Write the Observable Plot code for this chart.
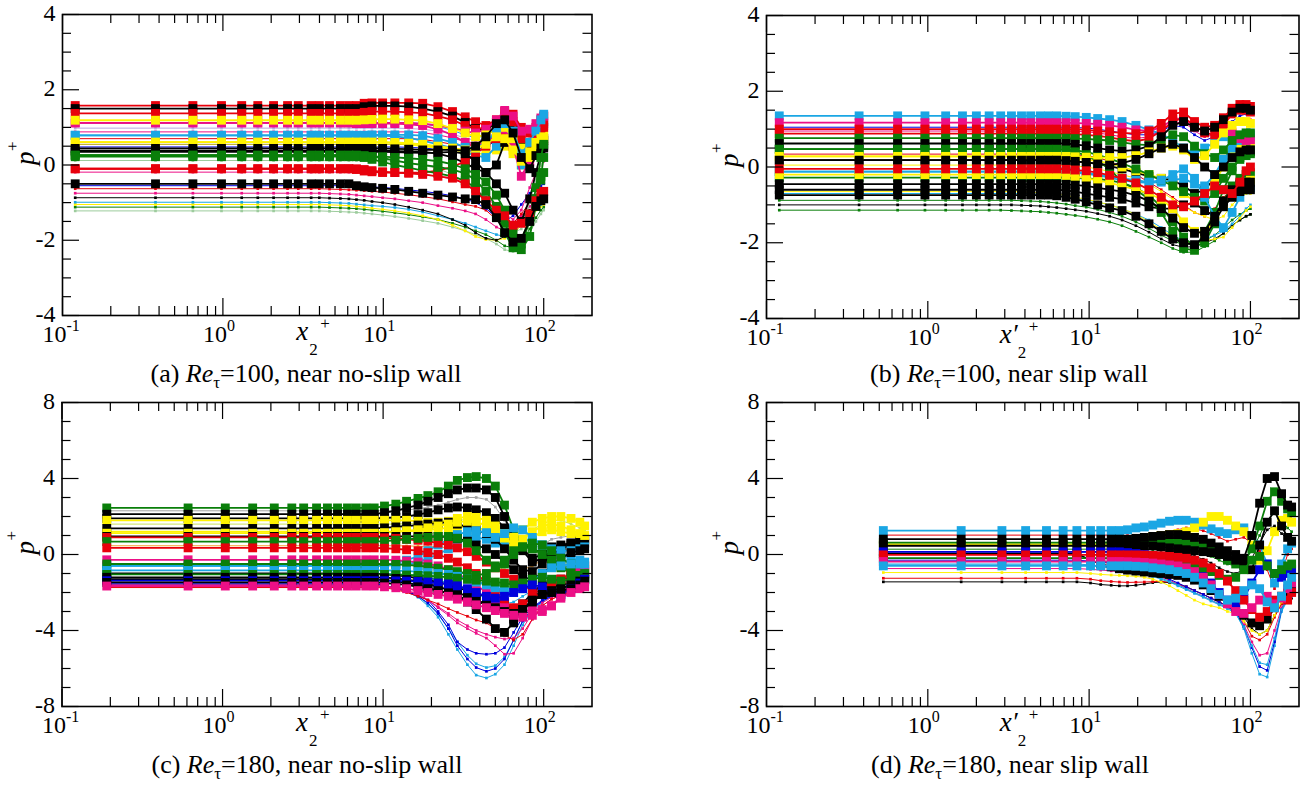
<!DOCTYPE html>
<html><head><meta charset="utf-8">
<script src="https://cdn.jsdelivr.net/npm/d3@7"></script>
<script src="https://cdn.jsdelivr.net/npm/@observablehq/plot@0.6"></script>
<style>
html,body{margin:0;padding:0;background:#fff;}
#page{position:relative;width:1303px;height:785px;overflow:hidden;background:#fff;font-family:"Liberation Serif","Times New Roman",serif;}
#page svg, #page svg text{font-family:"Liberation Serif","Times New Roman",serif !important;}
.panel{position:absolute;}
.cap{position:absolute;width:600px;text-align:center;font-size:26px;line-height:20px;color:#000;white-space:nowrap;}
.cap sub{font-size:17px;line-height:0;vertical-align:-6px;}
</style></head><body><div id="page"></div>
<script>
// ---------- axis ticks ----------
const xMajorTicks = [0.1, 1, 10, 100];
const xMajorExponents = ["-1", "0", "1", "2"];
const xMinorTicks = [0.2,0.3,0.4,0.5,0.6,0.7,0.8,0.9,2,3,4,5,6,7,8,9,20,30,40,50,60,70,80,90];
const yMajor100 = [-4,-2,0,2,4];
const yMinor100 = [-3.5,-3,-2.5,-1.5,-1,-0.5,0.5,1,1.5,2.5,3,3.5];
const yMajor180 = [-8,-4,0,4,8];
const yMinor180 = [-7,-6,-5,-3,-2,-1,1,2,3,5,6,7];

// ---------- panel (a): Re_tau=100, near no-slip wall ----------
const xA = [0.12,0.38,0.65,0.98,1.31,1.65,2.07,2.53,2.95,3.55,3.99,4.62,5.4,6.1,6.8,7.6,8.5,9.9,11.8,14.4,17.6,21.9,27,32.4,37.6,43.6,50.7,57.1,64.4,72.5,81.8,89.4,96,100];
const flatA = [-1.22,-1.12,-1.05,-0.99,-0.87,-0.75,-0.63,-0.55,-0.19,0.12,0.55,0.48,0.98,1.12,0.88,0.7,
  0.61,0.79,0.38,-0.1,1.12,
  1.58,1.5,1.37,1.12,1.19,0.79,0.61,0.44,0.35,0.26,0.26,0.22,-0.1,-0.5];
const tailA = [
  [-1.22,-1.23,-1.24,-1.25,-1.26,-1.28,-1.3,-1.33,-1.37,-1.42,-1.48,-1.55,-1.65,-1.75,-1.85,-1.95,-2.1,-2.25,-2.3,-2.15,-1.8,-1.5,-1.3,-1.2],
  [-1.12,-1.13,-1.14,-1.15,-1.16,-1.18,-1.2,-1.23,-1.27,-1.32,-1.38,-1.45,-1.55,-1.65,-1.75,-1.85,-2.0,-2.15,-2.2,-2.05,-1.7,-1.4,-1.2,-1.12],
  [-1.05,-1.06,-1.07,-1.08,-1.1,-1.12,-1.15,-1.18,-1.22,-1.28,-1.35,-1.45,-1.6,-1.75,-1.9,-1.98,-2.0,-1.95,-1.85,-1.6,-1.35,-1.2,-1.1,-1.05],
  [-0.99,-1.0,-1.01,-1.02,-1.04,-1.06,-1.08,-1.1,-1.13,-1.18,-1.25,-1.35,-1.45,-1.55,-1.65,-1.75,-1.85,-1.9,-1.8,-1.55,-1.3,-1.15,-1.05,-1.0],
  [-0.87,-0.88,-0.89,-0.9,-0.92,-0.94,-0.97,-1.0,-1.05,-1.12,-1.2,-1.3,-1.45,-1.6,-1.8,-1.95,-2.0,-1.9,-1.7,-1.45,-1.2,-1.05,-0.98,-0.95],
  [-0.75,-0.76,-0.77,-0.78,-0.8,-0.82,-0.84,-0.87,-0.9,-0.95,-1.0,-1.08,-1.15,-1.22,-1.3,-1.45,-1.65,-1.75,-1.6,-1.35,-1.1,-0.95,-0.85,-0.8],
  [-0.63,-0.64,-0.65,-0.66,-0.67,-0.68,-0.7,-0.72,-0.75,-0.79,-0.84,-0.9,-0.98,-1.05,-1.1,-1.2,-1.45,-1.6,-1.55,-1.3,-1.0,-0.8,-0.7,-0.65],
  [-0.55,-0.55,-0.55,-0.56,-0.56,-0.57,-0.58,-0.6,-0.62,-0.66,-0.7,-0.75,-0.82,-0.9,-1.0,-1.15,-1.4,-1.5,-1.35,-1.05,-0.75,-0.6,-0.55,-0.5],
  [-0.2,-0.22,-0.25,-0.3,-0.38,-0.5,-0.65,-0.85,-1.1,-1.3,-1.45,-1.2,-0.6,-0.2,0.0,0.1],
  [0.1,0.05,0.0,-0.1,-0.25,-0.45,-0.7,-1.0,-1.3,-1.5,-1.8,-1.7,-1.0,-0.4,0.0,0.2],
  [0.55,0.54,0.52,0.48,0.42,0.38,0.4,0.5,0.7,0.8,0.5,0.2,0.3,0.5,0.6,0.65],
  [0.48,0.47,0.45,0.42,0.4,0.36,0.38,0.48,0.65,0.75,0.45,0.0,-0.1,0.2,0.4,0.5],
  [0.98,0.97,0.95,0.9,0.82,0.72,0.65,0.7,0.9,1.05,0.85,0.5,0.55,0.75,0.85,0.9],
  [1.12,1.12,1.1,1.02,0.92,0.8,0.72,0.78,0.95,1.1,0.95,0.6,0.7,0.95,1.15,1.25],
  [0.88,0.88,0.86,0.8,0.72,0.62,0.58,0.65,0.85,1.0,0.8,0.45,0.5,0.8,1.0,1.1],
  [0.7,0.7,0.68,0.62,0.55,0.5,0.52,0.62,0.82,0.95,0.6,0.25,0.35,0.6,0.75,0.8],
  [0.6,0.6,0.6,0.6,0.58,0.55,0.5,0.45,0.4,0.35,0.3,0.3,0.4,0.5,0.3,0.0,0.2,0.5,0.7,0.8],
  [0.78,0.78,0.78,0.78,0.76,0.72,0.65,0.55,0.45,0.35,0.25,0.2,0.5,0.8,0.6,0.0,0.3,0.7,1.0,1.1],
  [0.38,0.38,0.38,0.38,0.37,0.36,0.35,0.3,0.2,0.05,-0.1,-0.2,0.0,0.6,0.9,0.5,0.2,0.4,0.6,0.65],
  [-0.1,-0.12,-0.15,-0.18,-0.2,-0.2,-0.2,-0.15,-0.05,0.1,0.3,0.5,0.7,0.9,0.6,0.2,0.4,0.7,0.9,1.0],
  [1.1,1.1,1.1,1.1,1.1,1.08,1.05,0.95,0.8,0.6,0.5,0.6,0.8,0.95,0.5,-0.3,0.1,0.8,1.1,1.15],
  [1.58,1.64,1.65,1.65,1.65,1.65,1.64,1.55,1.42,1.28,1.15,1.05,1.2,1.42,1.35,1.0,0.85,1.0,1.2,1.3],
  [1.5,1.55,1.57,1.57,1.57,1.55,1.5,1.42,1.3,1.13,0.97,0.9,1.15,1.22,1.0,0.55,0.35,0.5,0.65,0.7],
  [1.37,1.4,1.42,1.42,1.42,1.4,1.38,1.3,1.2,1.05,0.95,1.0,1.15,1.3,1.15,0.7,0.6,0.85,1.0,1.05],
  [1.12,1.12,1.12,1.12,1.12,1.12,1.1,1.05,0.98,0.9,0.85,0.95,1.2,1.45,1.3,0.9,0.95,1.1,1.25,1.3],
  [1.19,1.2,1.21,1.22,1.22,1.2,1.18,1.1,0.97,0.85,0.75,0.8,0.95,1.0,0.7,0.45,0.2,0.45,0.6,0.65],
  [0.79,0.79,0.8,0.8,0.8,0.8,0.78,0.7,0.6,0.47,0.45,0.6,0.9,1.1,0.9,0.3,0.6,0.9,1.2,1.35],
  [0.61,0.61,0.61,0.61,0.6,0.58,0.55,0.5,0.45,0.4,0.45,0.55,0.75,0.7,0.4,0.1,0.35,0.6,0.7,0.75],
  [0.44,0.44,0.44,0.44,0.43,0.42,0.4,0.4,0.4,0.38,0.5,0.75,1.1,1.2,0.85,0.2,-0.1,0.25,0.45,0.5],
  [0.35,0.35,0.35,0.35,0.34,0.33,0.32,0.33,0.35,0.3,0.1,-0.2,-0.5,-0.75,-1.2,-1.5,-0.9,-0.2,0.3,0.45],
  [0.26,0.25,0.22,0.18,0.12,0.05,0.0,-0.05,-0.12,-0.22,-0.4,-0.7,-1.1,-1.55,-2.0,-2.25,-1.9,-1.1,-0.3,0.2],
  [0.26,0.2,0.15,0.08,0.0,-0.07,-0.15,-0.22,-0.3,-0.42,-0.62,-0.95,-1.35,-1.8,-2.2,-2.1,-1.5,-0.6,0.2,0.55],
  [0.22,0.22,0.22,0.22,0.2,0.18,0.15,0.1,0.02,-0.1,-0.25,-0.45,-0.8,-1.2,-1.8,-2.0,-1.4,-0.9,-0.4,-0.2],
  [-0.12,-0.16,-0.18,-0.2,-0.2,-0.22,-0.25,-0.3,-0.35,-0.5,-0.7,-0.95,-1.2,-1.35,-1.6,-1.55,-1.3,-0.95,-0.75,-0.7],
  [-0.55,-0.58,-0.6,-0.62,-0.65,-0.7,-0.75,-0.8,-0.85,-0.9,-0.92,-1.05,-1.4,-1.8,-2.05,-1.95,-1.5,-1.1,-0.95,-0.9]
];
const colorA = ["lg","g","y","c","k","m","r","b","m","lg","ol","b","lav","c","m","r",
  "y","c","k","r","m",
  "r","k","r","m","y","c","y","k","k","g","g","g","r","k"];
const bigA = [0,0,0,0,0,0,0,0,0,0,0,0,0,0,0,0, 1,1,1,1,1, 1,1,1,1,1,1,1,1,1,1,1,1,1,1];

// ---------- panel (b): Re_tau=100, near slip wall ----------
const xB = [0.12,0.375,0.65,0.96,1.29,1.64,2.0,2.4,2.83,3.3,3.81,4.34,4.98,5.6,6.3,7.2,8.2,9.6,11.3,13.4,16,19.5,23.5,28,33,38.5,45,52,60,68,77,86,94,100];
const flatB = [-1.14,-1.0,-0.88,-0.7,-0.65,1.05,0.34,0.95,0.05,
  0.18,0.28,-0.12,0.47,-0.6,
  1.35,1.17,1.0,0.88,0.76,0.62,0.47,0.28,0.18,-0.12,-0.28,-0.2,-0.45,-0.74,-0.05];
const tailB = [
  [-1.14,-1.15,-1.16,-1.17,-1.18,-1.2,-1.22,-1.25,-1.28,-1.32,-1.38,-1.45,-1.55,-1.7,-1.85,-2.0,-2.15,-2.25,-2.25,-2.1,-1.95,-1.75,-1.55,-1.4,-1.3,-1.25],
  [-1.0,-1.0,-1.01,-1.02,-1.03,-1.05,-1.07,-1.1,-1.13,-1.17,-1.23,-1.3,-1.4,-1.55,-1.72,-1.9,-2.05,-2.12,-2.1,-2.0,-1.9,-1.75,-1.55,-1.4,-1.3,-1.25],
  [-0.88,-0.88,-0.89,-0.9,-0.91,-0.93,-0.95,-0.98,-1.02,-1.06,-1.12,-1.2,-1.3,-1.45,-1.62,-1.8,-1.95,-2.05,-2.05,-1.95,-1.8,-1.6,-1.4,-1.25,-1.15,-1.1],
  [-0.7,-0.7,-0.7,-0.71,-0.72,-0.73,-0.75,-0.78,-0.82,-0.87,-0.93,-1.0,-1.1,-1.25,-1.4,-1.6,-1.8,-1.95,-2.0,-1.9,-1.8,-1.7,-1.5,-1.3,-1.1,-1.0],
  [-0.65,-0.65,-0.66,-0.67,-0.68,-0.7,-0.72,-0.75,-0.8,-0.85,-0.92,-1.0,-1.1,-1.25,-1.45,-1.65,-1.85,-2.0,-2.0,-1.95,-1.9,-1.85,-1.6,-1.35,-1.15,-1.05],
  [1.05,1.05,1.04,1.03,1.0,0.95,0.9,0.85,0.85,0.95,1.1,1.05,0.85,0.7,0.8,1.0,1.2,1.35,1.4,1.4],
  [0.34,0.33,0.32,0.3,0.25,0.15,0.0,-0.2,-0.4,-0.6,-0.8,-1.0,-1.2,-1.3,-1.1,-0.8,-0.6,-0.5,-0.5,-0.5],
  [0.95,0.95,0.94,0.93,0.9,0.85,0.8,0.75,0.8,0.95,1.15,1.2,0.95,0.8,0.85,0.95,1.1,1.2,1.25,1.25],
  [0.05,0.04,0.02,0.0,-0.05,-0.12,-0.2,-0.3,-0.45,-0.65,-0.85,-1.05,-1.2,-1.3,-1.4,-1.3,-1.0,-0.8,-0.7,-0.7],
  [0.18,0.17,0.15,0.12,0.08,0.02,-0.05,-0.15,-0.25,-0.3,-0.35,-0.5,-0.7,-0.6,-0.3,0.1,0.3,0.35,0.4,0.4],
  [0.28,0.27,0.25,0.2,0.15,0.1,0.0,-0.1,-0.2,-0.3,-0.45,-0.7,-0.9,-0.8,-0.4,0.0,0.3,0.5,0.6,0.6],
  [-0.12,-0.13,-0.15,-0.18,-0.22,-0.28,-0.35,-0.4,-0.42,-0.4,-0.35,-0.3,-0.45,-0.5,-0.2,0.2,0.5,0.7,0.75,0.8],
  [0.47,0.46,0.44,0.4,0.32,0.22,0.1,-0.05,-0.2,-0.35,-0.5,-0.65,-0.8,-0.9,-0.7,-0.3,0.0,0.2,0.3,0.35],
  [-0.6,-0.62,-0.65,-0.7,-0.75,-0.8,-0.85,-0.95,-1.05,-1.1,-1.1,-1.0,-0.95,-1.15,-1.3,-1.0,-0.7,-0.55,-0.5,-0.5],
  [1.35,1.34,1.33,1.31,1.28,1.25,1.2,1.1,0.98,0.88,0.7,0.5,0.35,0.5,0.65,0.8,0.75,0.8,0.85,0.85],
  [1.17,1.17,1.16,1.15,1.13,1.1,1.05,0.98,0.95,1.05,1.25,1.3,1.05,0.95,1.05,1.1,0.9,0.75,0.7,0.72],
  [1.0,1.0,1.0,0.98,0.95,0.93,0.9,0.88,0.95,1.15,1.4,1.45,1.2,1.05,1.1,1.3,1.55,1.65,1.65,1.6],
  [0.88,0.88,0.87,0.85,0.82,0.78,0.72,0.68,0.75,0.95,1.2,1.3,1.1,0.9,0.85,1.1,1.4,1.5,1.5,1.45],
  [0.76,0.76,0.75,0.74,0.72,0.7,0.65,0.6,0.58,0.7,0.85,0.8,0.55,0.35,0.25,0.45,0.7,0.85,0.9,0.9],
  [0.62,0.62,0.6,0.56,0.5,0.45,0.42,0.45,0.55,0.8,1.1,1.2,1.05,0.95,1.05,1.25,1.45,1.55,1.55,1.5],
  [0.47,0.45,0.4,0.3,0.15,-0.05,-0.4,-0.6,-0.85,-1.2,-1.7,-2.15,-2.2,-1.7,-1.2,-0.6,-0.1,0.25,0.4,0.45],
  [0.28,0.28,0.27,0.26,0.25,0.25,0.25,0.3,0.4,0.5,0.55,0.45,0.2,0.3,0.6,0.9,1.1,1.2,1.2,1.15],
  [0.18,0.17,0.15,0.12,0.08,0.05,0.1,0.2,0.35,0.5,0.6,0.5,0.25,0.0,-0.2,0.0,0.25,0.4,0.45,0.45],
  [-0.12,-0.12,-0.13,-0.15,-0.2,-0.25,-0.3,-0.35,-0.4,-0.35,-0.2,-0.05,-0.3,-0.8,-1.3,-1.6,-1.2,-0.8,-0.6,-0.55],
  [-0.28,-0.28,-0.29,-0.3,-0.32,-0.35,-0.42,-0.55,-0.75,-1.05,-1.45,-1.85,-2.1,-2.0,-1.5,-0.9,-0.5,-0.3,-0.2,-0.15],
  [-0.2,-0.22,-0.25,-0.3,-0.35,-0.42,-0.5,-0.6,-0.7,-0.85,-1.1,-1.45,-1.7,-1.75,-1.4,-1.0,-0.7,-0.5,-0.4,-0.35],
  [-0.45,-0.46,-0.48,-0.5,-0.55,-0.6,-0.65,-0.75,-0.9,-1.1,-1.35,-1.6,-1.75,-1.7,-1.3,-0.9,-0.6,-0.45,-0.4,-0.4],
  [-0.76,-0.8,-0.85,-0.92,-1.0,-1.08,-1.15,-1.3,-1.5,-1.7,-1.9,-2.0,-2.05,-1.85,-1.45,-1.05,-0.8,-0.65,-0.6,-0.6],
  [-0.05,-0.06,-0.08,-0.1,-0.15,-0.22,-0.3,-0.42,-0.6,-0.8,-1.0,-1.05,-0.9,-0.7,-0.5,-0.6,-0.7,-0.4,-0.1,0.0]
];
const colorB = ["g","k","g","c","y","b","r","m","y",
  "k","y","c","g","k",
  "c","m","r","r","g","k","g","y","k","c","g","y","k","k","r"];
const bigB = [0,0,0,0,0,0,0,0,0, 1,1,1,1,1, 1,1,1,1,1,1,1,1,1,1,1,1,1,1,1];

// ---------- panel (c): Re_tau=180, near no-slip wall ----------
const xC = [0.19,0.61,1.04,1.54,2.1,2.7,3.2,3.85,4.5,5.2,6.0,6.8,7.8,8.8,10.2,12,14,16.5,19,22,25.5,29,33.5,38,44,50,57,65,74,85,98,112,128,148,168,180];
const flatC = [-1.58,-1.6,-1.55,-1.5,-1.62,-1.6,-1.74,1.6,0.46,2.3,-0.5,-1.0,
  -1.3,-1.0,1.2,-0.6,
  2.45,2.12,1.9,1.8,1.37,1.12,-0.6,0.95,0.9,0.68,0.35,-0.28,-0.5,-0.84,-1.05,-1.2,-1.38,-1.47,-1.66];
const tailC = [
  [-1.65,-1.75,-1.95,-2.25,-2.7,-3.3,-4.2,-5.0,-5.8,-6.35,-6.5,-6.3,-5.8,-4.8,-3.7,-2.95,-2.5,-2.2,-2.0,-1.85,-1.75,-1.7],
  [-1.65,-1.75,-1.95,-2.2,-2.6,-3.15,-3.9,-4.6,-5.3,-5.75,-5.95,-5.85,-5.4,-4.5,-3.5,-2.9,-2.45,-2.2,-2.0,-1.85,-1.75,-1.7],
  [-1.65,-1.75,-1.95,-2.15,-2.4,-3.0,-3.7,-4.6,-5.0,-5.2,-5.25,-5.2,-4.9,-4.1,-3.3,-2.8,-2.4,-2.15,-2.0,-1.85,-1.75,-1.7],
  [-1.65,-1.75,-1.95,-2.2,-2.55,-3.1,-3.9,-4.8,-5.5,-5.95,-6.15,-6.0,-5.5,-4.5,-3.5,-2.85,-2.45,-2.2,-2.0,-1.85,-1.75,-1.7],
  [-1.7,-1.8,-1.95,-2.0,-2.4,-2.8,-3.2,-3.6,-3.9,-4.15,-4.4,-4.8,-5.25,-5.2,-4.4,-3.4,-2.7,-2.35,-2.15,-2.0,-1.9,-1.85],
  [-1.65,-1.75,-1.9,-2.1,-2.4,-2.75,-3.1,-3.45,-3.75,-4.0,-4.2,-4.35,-4.45,-4.4,-3.9,-3.1,-2.55,-2.25,-2.1,-2.0,-1.9,-1.85],
  [-1.75,-1.85,-2.0,-2.2,-2.4,-2.6,-2.85,-3.05,-3.25,-3.45,-3.6,-3.9,-4.25,-4.5,-4.2,-3.4,-2.7,-2.35,-2.15,-2.0,-1.9,-1.85],
  [1.6,1.6,1.62,1.65,1.7,1.75,1.8,1.85,1.8,1.7,1.5,1.2,0.8,0.6,0.9,1.3,1.6,1.8,1.8,1.6,1.4,1.3],
  [0.46,0.46,0.45,0.44,0.42,0.4,0.35,0.25,0.1,-0.1,-0.35,-0.6,-0.8,-0.9,-0.8,-0.6,-0.3,0.0,0.2,0.3,0.3,0.3],
  [2.3,2.32,2.35,2.4,2.5,2.6,2.75,2.9,3.0,3.0,2.9,2.5,1.8,1.0,0.5,0.3,0.5,0.8,0.9,1.0,1.0,1.0],
  [-0.5,-0.5,-0.52,-0.55,-0.6,-0.65,-0.75,-0.9,-1.1,-1.35,-1.6,-1.9,-2.1,-2.0,-1.7,-1.3,-1.0,-0.8,-0.7,-0.6,-0.55,-0.5],
  [-1.0,-1.02,-1.05,-1.1,-1.2,-1.35,-1.5,-1.7,-1.9,-2.1,-2.3,-2.5,-2.6,-2.5,-2.2,-1.9,-1.6,-1.4,-1.3,-1.2,-1.1,-1.05],
  [-1.35,-1.4,-1.5,-1.6,-1.75,-1.9,-2.05,-2.2,-2.35,-2.5,-2.6,-2.7,-3.0,-3.4,-3.0,-2.3,-1.9,-1.7,-1.6,-1.5,-1.4,-1.3],
  [-1.05,-1.1,-1.15,-1.25,-1.35,-1.45,-1.6,-1.75,-1.9,-2.05,-2.2,-2.35,-2.6,-2.9,-2.6,-2.0,-1.6,-1.4,-1.3,-1.2,-1.1,-1.05],
  [1.2,1.2,1.22,1.25,1.3,1.35,1.4,1.45,1.45,1.4,1.3,1.0,0.6,0.4,0.6,0.9,1.2,1.3,1.2,1.1,1.0,0.9],
  [-0.6,-0.55,-0.5,-0.4,-0.2,0.0,0.3,0.6,0.8,0.9,0.8,0.6,0.4,0.5,0.7,0.8,0.5,0.2,0.0,-0.2,-0.3,-0.4],
  [2.55,2.65,2.8,2.95,3.1,3.3,3.6,3.9,4.05,4.1,4.0,3.6,2.6,1.3,0.6,0.3,0.1,-0.3,-0.7,-1.0,-1.2,-1.3],
  [2.2,2.3,2.45,2.6,2.8,3.0,3.2,3.4,3.5,3.5,3.4,3.0,2.0,0.8,0.3,-0.2,0.0,0.4,0.5,0.6,0.6,0.6],
  [1.92,1.95,2.0,2.1,2.2,2.35,2.45,2.5,2.45,2.35,2.2,1.9,1.4,0.8,0.2,-0.4,-0.2,0.1,0.4,0.6,0.7,0.8],
  [1.8,1.8,1.8,1.75,1.7,1.7,1.75,1.9,2.0,1.95,1.8,1.5,1.1,0.9,1.3,1.7,1.9,2.0,2.0,1.9,1.7,1.5],
  [1.4,1.45,1.5,1.55,1.6,1.65,1.7,1.6,1.45,1.3,1.1,0.8,0.3,-0.3,-0.8,-0.9,-0.5,0.0,0.3,0.5,0.7,0.8],
  [1.15,1.2,1.25,1.3,1.4,1.5,1.6,1.7,1.75,1.7,1.55,1.3,0.9,0.5,0.8,1.2,1.5,1.6,1.5,1.3,1.1,1.0],
  [-0.55,-0.45,-0.3,-0.1,0.2,0.5,0.8,1.05,1.2,1.25,1.15,0.9,1.1,1.4,1.3,0.9,0.5,0.3,0.2,0.2,0.3,0.4],
  [0.95,0.95,0.95,0.95,0.95,0.95,0.92,0.85,0.7,0.5,0.3,0.0,-0.4,-0.8,-1.2,-1.3,-1.0,-0.6,-0.2,0.1,0.2,0.3],
  [0.88,0.85,0.8,0.75,0.7,0.6,0.5,0.35,0.15,-0.1,-0.4,-0.7,-1.0,-1.3,-1.6,-1.9,-2.0,-1.7,-1.3,-1.0,-0.7,-0.6],
  [0.7,0.75,0.8,0.85,0.9,0.95,0.95,0.85,0.6,0.2,-0.3,-0.6,-0.5,0.0,0.4,0.6,0.5,0.2,-0.2,-0.5,-0.7,-0.8],
  [0.33,0.3,0.25,0.2,0.1,0.0,-0.2,-0.4,-0.7,-1.0,-1.5,-2.0,-2.5,-2.8,-2.6,-2.3,-2.0,-1.6,-1.3,-1.1,-1.0,-0.9],
  [-0.28,-0.3,-0.35,-0.4,-0.5,-0.6,-0.8,-1.0,-1.3,-1.6,-2.0,-2.4,-2.8,-3.1,-3.0,-2.9,-2.9,-2.7,-2.2,-1.5,-0.9,-0.6],
  [-0.5,-0.52,-0.55,-0.6,-0.65,-0.72,-0.8,-0.9,-1.0,-1.1,-1.0,-0.7,-0.3,0.2,0.4,0.3,0.0,-0.3,-0.6,-0.9,-1.1,-1.2],
  [-0.84,-0.85,-0.87,-0.9,-0.95,-1.0,-1.05,-1.15,-1.3,-1.45,-1.6,-1.75,-1.9,-2.0,-1.8,-1.4,-1.0,-0.7,-0.6,-0.5,-0.5,-0.5],
  [-1.05,-1.06,-1.08,-1.1,-1.12,-1.15,-1.2,-1.25,-1.3,-1.35,-1.4,-1.45,-1.5,-1.6,-1.5,-1.3,-1.2,-1.3,-1.4,-1.3,-1.1,-1.0],
  [-1.22,-1.26,-1.32,-1.4,-1.55,-1.7,-1.85,-2.0,-2.2,-2.4,-2.6,-2.8,-3.0,-3.1,-2.9,-2.5,-2.1,-1.9,-1.8,-1.6,-1.4,-1.3],
  [-1.38,-1.39,-1.4,-1.42,-1.45,-1.5,-1.55,-1.65,-1.8,-2.0,-2.2,-2.3,-2.2,-2.0,-1.8,-1.6,-1.7,-2.0,-2.1,-1.8,-1.5,-1.3],
  [-1.5,-1.55,-1.6,-1.7,-1.8,-1.9,-2.05,-2.2,-2.5,-2.9,-3.4,-3.9,-4.1,-3.6,-2.9,-2.4,-2.1,-2.0,-1.9,-1.8,-1.6,-1.4],
  [-1.7,-1.75,-1.8,-1.9,-2.0,-2.1,-2.2,-2.35,-2.5,-2.65,-2.8,-2.95,-3.1,-3.2,-3.3,-3.2,-3.0,-2.7,-2.3,-2.0,-1.8,-1.7]
];
const colorC = ["c","c","b","b","m","m","r","yg","or","gr","te","c",
  "k","k","y","c",
  "g","k","k","y","k","y","c","k","r","g","r","m","g","c","g","k","b","k","m"];
const bigC = [0,0,0,0,0,0,0,0,0,0,0,0, 1,1,1,1, 1,1,1,1,1,1,1,1,1,1,1,1,1,1,1,1,1,1,1];

// ---------- panel (d): Re_tau=180, near slip wall ----------
const xD = [0.53,1.61,2.88,4.04,5.44,6.9,8.4,10.2,11.8,13.7,15.4,17.3,19.5,22,24.8,27.9,31.5,35.5,40,45,51,57,64,72,81,91,102,114,127,141,156,170,180];
const flatD = [-1.44,-1.25,-0.95,-0.74,-0.5,-0.3,-0.55,0.28,0.14,1.02,
  1.26,0.55,0.63,0.81,0.46,0.05,0.14,-0.19,-0.02,-0.37,-0.6];
const tailD = [
  [-1.5,-1.58,-1.62,-1.65,-1.65,-1.62,-1.55,-1.48,-1.45,-1.48,-1.55,-1.7,-1.9,-2.1,-2.3,-2.5,-2.7,-2.9,-3.3,-3.9,-4.2,-4.0,-3.2,-2.6,-2.4,-2.3],
  [-1.3,-1.38,-1.42,-1.45,-1.47,-1.46,-1.45,-1.43,-1.42,-1.45,-1.55,-1.7,-1.9,-2.1,-2.3,-2.5,-2.7,-2.9,-3.5,-4.3,-4.5,-4.2,-3.3,-2.6,-2.3,-2.2],
  [-1.0,-1.05,-1.08,-1.1,-1.12,-1.15,-1.2,-1.3,-1.45,-1.65,-1.9,-2.15,-2.4,-2.6,-2.7,-2.8,-3.0,-3.1,-3.5,-4.0,-4.2,-4.0,-3.2,-2.5,-2.2,-2.1],
  [-0.78,-0.82,-0.86,-0.9,-0.95,-1.0,-1.05,-1.1,-1.2,-1.35,-1.55,-1.8,-2.0,-2.2,-2.4,-2.6,-2.8,-3.0,-3.7,-4.6,-5.3,-5.2,-4.0,-2.8,-2.3,-2.2],
  [-0.55,-0.6,-0.65,-0.7,-0.8,-0.9,-1.0,-1.1,-1.25,-1.4,-1.6,-1.8,-2.0,-2.2,-2.4,-2.6,-2.8,-3.1,-3.9,-5.2,-6.3,-6.45,-4.8,-3.0,-2.4,-2.2],
  [-0.35,-0.4,-0.45,-0.5,-0.6,-0.7,-0.8,-0.95,-1.1,-1.3,-1.5,-1.7,-1.9,-2.1,-2.3,-2.5,-2.75,-3.0,-3.8,-4.9,-5.9,-6.1,-4.6,-2.9,-2.3,-2.1],
  [-0.6,-0.65,-0.7,-0.75,-0.85,-0.95,-1.05,-1.15,-1.3,-1.45,-1.65,-1.85,-2.05,-2.25,-2.45,-2.65,-2.85,-3.1,-3.8,-4.8,-5.7,-5.8,-4.4,-2.9,-2.3,-2.1],
  [0.28,0.28,0.27,0.26,0.25,0.24,0.22,0.2,0.15,0.05,-0.1,-0.3,-0.5,-0.6,-0.4,0.2,1.0,1.8,2.2,1.8,1.4,1.2],
  [0.14,0.14,0.13,0.12,0.1,0.08,0.05,0.0,-0.1,-0.25,-0.45,-0.7,-0.9,-1.0,-0.8,-0.2,0.6,1.3,1.5,1.1,0.8,0.7],
  [1.0,1.0,1.05,1.1,1.15,1.2,1.3,1.4,1.35,1.25,1.1,0.9,0.7,0.8,0.9,0.6,0.2,-0.8,-1.8,-1.0,0.0,0.3],
  [1.3,1.4,1.45,1.55,1.65,1.75,1.8,1.8,1.7,1.55,1.35,1.2,1.1,1.3,1.4,1.0,0.5,-0.5,-1.5,-0.5,0.3,0.6],
  [0.6,0.7,0.85,0.95,1.0,1.05,1.1,1.2,1.4,1.7,2.0,2.0,1.8,1.5,1.2,0.5,-0.3,0.2,1.2,1.8,1.9,1.7],
  [0.6,0.6,0.65,0.65,0.7,0.7,0.7,0.65,0.55,0.4,0.2,0.0,-0.3,-0.5,-0.4,0.3,1.5,2.8,3.3,2.8,2.4,2.2],
  [0.8,0.85,0.9,0.95,1.0,1.05,1.05,1.0,0.9,0.8,0.6,0.4,0.2,0.0,-0.2,1.0,2.7,4.0,4.1,3.2,2.6,2.5],
  [0.45,0.45,0.45,0.45,0.4,0.35,0.3,0.25,0.2,0.15,0.1,0.0,-0.1,-0.3,-0.6,-0.8,0.5,1.7,2.3,1.5,0.9,0.7],
  [-0.3,-0.5,-0.65,-0.75,-0.82,-0.87,-0.92,-0.97,-1.0,-1.05,-1.1,-1.2,-1.35,-1.6,-1.9,-2.2,-2.5,-2.8,-3.2,-3.6,-3.75,-3.4,-2.8,-2.2,-2.0,-1.9],
  [0.1,0.05,0.0,-0.05,-0.1,-0.2,-0.35,-0.55,-0.8,-1.1,-1.5,-2.0,-2.4,-2.6,-2.3,-1.5,-0.8,-0.5,-1.0,-1.2,-1.0,-0.8],
  [-0.2,-0.25,-0.3,-0.35,-0.4,-0.45,-0.5,-0.55,-0.6,-0.7,-0.9,-1.1,-1.3,-1.2,-0.8,-0.3,-0.1,-0.6,-1.0,-0.8,-0.6,-0.5],
  [-0.02,-0.02,-0.03,-0.05,-0.07,-0.1,-0.15,-0.2,-0.3,-0.45,-0.7,-1.0,-1.4,-1.9,-2.4,-2.9,-3.3,-3.0,-2.4,-2.2,-2.4,-2.0],
  [-0.38,-0.4,-0.42,-0.45,-0.5,-0.55,-0.6,-0.7,-0.9,-1.2,-1.6,-2.1,-2.6,-3.0,-3.1,-2.8,-2.4,-2.2,-2.6,-2.3,-1.8,-1.5],
  [-0.6,-0.62,-0.65,-0.7,-0.75,-0.8,-0.9,-1.0,-1.2,-1.5,-1.8,-2.1,-2.4,-2.3,-1.9,-1.6,-1.8,-2.5,-2.8,-2.2,-1.6,-1.2]
];
const colorD = ["k","r","y","m","c","b","c","g","k","r",
  "c","y","g","k","k","k","b","g","r","m","c"];
const bigD = [0,0,0,0,0,0,0,0,0,0, 1,1,1,1,1,1,1,1,1,1,1];

// ---------- styling ----------
const PALETTE = {k:"#000000", r:"#e8000b", y:"#fff200", c:"#1aa6e4", m:"#ec0f86", g:"#0a7f0a", b:"#0000dd",
  lav:"#b8a8dc", ol:"#b5a300", lg:"#9dcc9d", yg:"#c9e05c", gr:"#a0a0a0", or:"#f5a031", te:"#2f8f8f"};
const FONT = "Liberation Serif";

function seriesRows(xs, flat, tail, s) {
  const k = xs.length - tail.length;
  return xs.map((x, j) => ({x, y: j < k ? flat : tail[j - k], s}));
}

function panel(cfg) {
  const {xs, flat, tails, colors, big, yDomain, yMajor, yMinor, width, height, mL, mR, mT, mB, prime} = cfg;
  const H = height - mT - mB, W = width - mL - mR;
  const marks = [];
  flat.forEach((f, i) => {
    const rows = seriesRows(xs, f, tails[i], i);
    const col = PALETTE[colors[i]];
    marks.push(Plot.line(rows, {x: "x", y: "y", stroke: col, strokeWidth: big[i] ? 1.8 : 1}));
    marks.push(Plot.dot(rows, {x: "x", y: "y", symbol: "square", r: big[i] ? 5 : 1.5, fill: col, stroke: "none"}));
  });
  const tk = {stroke: "#000", strokeWidth: 1.2};
  const tx = {fontFamily: FONT, fill: "#000"};
  marks.push(
    Plot.tickX(xMajorTicks, {x: d => d, insetTop: H - 17, ...tk}),
    Plot.tickX(xMajorTicks, {x: d => d, insetBottom: H - 17, ...tk}),
    Plot.tickX(xMinorTicks, {x: d => d, insetTop: H - 9, ...tk}),
    Plot.tickX(xMinorTicks, {x: d => d, insetBottom: H - 9, ...tk}),
    Plot.tickY(yMajor, {y: d => d, insetRight: W - 17, ...tk}),
    Plot.tickY(yMajor, {y: d => d, insetLeft: W - 17, ...tk}),
    Plot.tickY(yMinor, {y: d => d, insetRight: W - 9, ...tk}),
    Plot.tickY(yMinor, {y: d => d, insetLeft: W - 9, ...tk}),
    Plot.frame({stroke: "#000", strokeWidth: 1.6}),
    Plot.text(yMajor, {y: d => d, text: d => String(d), frameAnchor: "left", textAnchor: "end", dx: -7, dy: -1, fontSize: 24, ...tx}),
    Plot.text(xMajorTicks, {x: d => d, text: () => "10", frameAnchor: "bottom", textAnchor: "end", dx: 4, dy: 26, fontSize: 24, ...tx}),
    Plot.text(xMajorTicks, {x: d => d, text: (d, i) => xMajorExponents[i], frameAnchor: "bottom", textAnchor: "start", dx: 4, dy: 15, fontSize: 16, ...tx}),
    Plot.text(["p"], {text: d => d, frameAnchor: "left", rotate: -90, dx: -37, fontSize: 27, fontStyle: "italic", ...tx}),
    Plot.text(["+"], {text: d => d, frameAnchor: "left", rotate: -90, dx: -50, dy: -14, fontSize: 17, ...tx}),
    Plot.text([prime ? "x\u2032" : "x"], {text: d => d, frameAnchor: "bottom", textAnchor: "start", dx: prime ? -33 : -31, dy: 24, fontSize: 27, fontStyle: "italic", ...tx}),
    Plot.text(["2"], {text: d => d, frameAnchor: "bottom", textAnchor: "start", dx: prime ? -15 : -18, dy: 39, fontSize: 17, ...tx}),
    Plot.text(["+"], {text: d => d, frameAnchor: "bottom", textAnchor: "start", dx: prime ? -4 : -7, dy: 13, fontSize: 17, ...tx})
  );
  const svg = Plot.plot({
    width, height, marginLeft: mL, marginRight: mR, marginTop: mT, marginBottom: mB,
    x: {type: "log", domain: [0.1, 200], axis: null},
    y: {domain: yDomain, axis: null},
    style: {background: "transparent", overflow: "visible", fontFamily: "Liberation Serif"},
    marks
  });
  svg.querySelectorAll("text, g").forEach(t => {
    if (t.getAttribute("font-family")) t.setAttribute("font-family", "Liberation Serif");
    if (t.tagName.toLowerCase() === "text") t.style.fontFamily = "'Liberation Serif', serif";
  });
  return svg;
}

const page = document.getElementById("page");
function place(svg, left, top) {
  const d = document.createElement("div");
  d.className = "panel"; d.style.left = left + "px"; d.style.top = top + "px";
  d.appendChild(svg); page.appendChild(d);
}
function caption(html, center, top) {
  const d = document.createElement("div");
  d.className = "cap"; d.style.left = (center - 300) + "px"; d.style.top = top + "px";
  d.innerHTML = html; page.appendChild(d);
}

place(panel({xs: xA, flat: flatA, tails: tailA, colors: colorA, big: bigA, yDomain: [-4, 4], yMajor: yMajor100, yMinor: yMinor100,
  width: 650, height: 392, mL: 62, mR: 58.5, mT: 14, mB: 77, prime: false}), 0, 0);
place(panel({xs: xB, flat: flatB, tails: tailB, colors: colorB, big: bigB, yDomain: [-4, 4], yMajor: yMajor100, yMinor: yMinor100,
  width: 653, height: 392, mL: 116, mR: 4.5, mT: 15, mB: 74, prime: true}), 650, 0);
place(panel({xs: xC, flat: flatC, tails: tailC, colors: colorC, big: bigC, yDomain: [-8, 8], yMajor: yMajor180, yMinor: yMinor180,
  width: 650, height: 393, mL: 61.5, mR: 58.5, mT: 10, mB: 79, prime: false}), 0, 392);
place(panel({xs: xD, flat: flatD, tails: tailD, colors: colorD, big: bigD, yDomain: [-8, 8], yMajor: yMajor180, yMinor: yMinor180,
  width: 653, height: 393, mL: 116, mR: 4.5, mT: 10, mB: 79, prime: true}), 650, 392);

caption("(a) <i>Re</i><sub>\u03c4</sub>=100, near no-slip wall", 306, 364);
caption("(b) <i>Re</i><sub>\u03c4</sub>=100, near slip wall", 1009, 364);
caption("(c) <i>Re</i><sub>\u03c4</sub>=180, near no-slip wall", 307, 755);
caption("(d) <i>Re</i><sub>\u03c4</sub>=180, near slip wall", 1010, 755);
</script></body></html>
